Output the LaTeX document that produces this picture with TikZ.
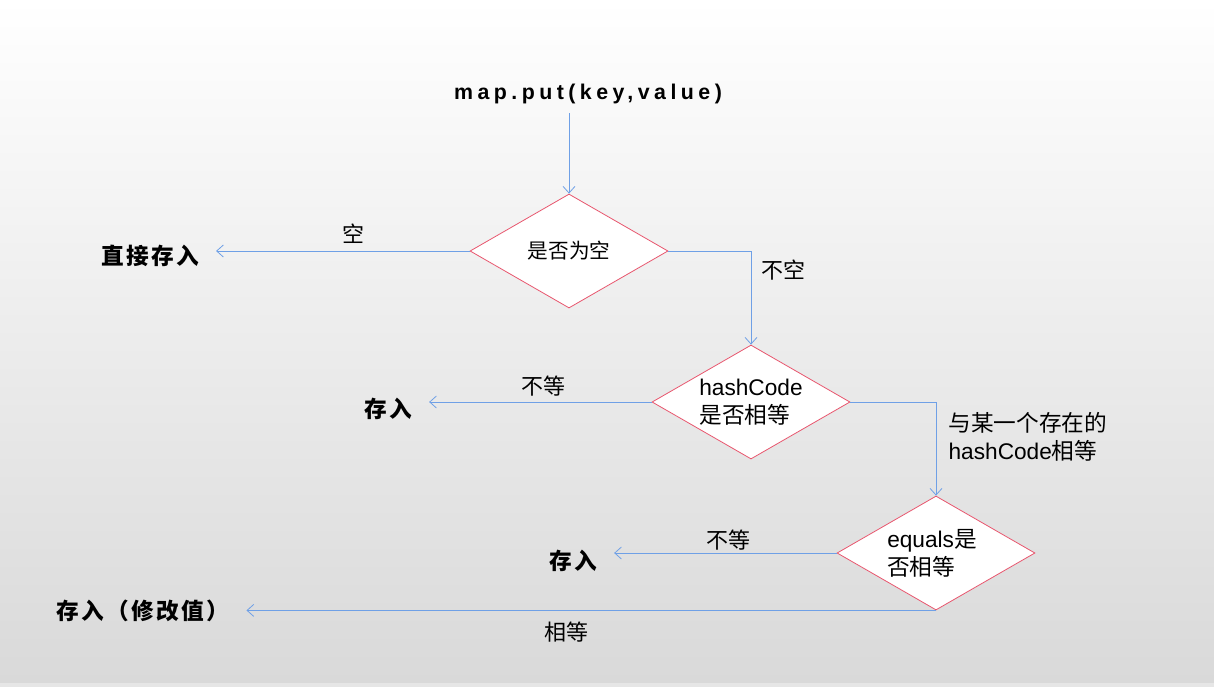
\documentclass[tikz,border=0pt]{standalone}
\usepackage{fontspec}
\usepackage{xcolor}
\setmainfont{Liberation Sans}
\newfontfamily\cjk{Noto Sans CJK SC}
\newfontfamily\cjkwide{Noto Sans CJK SC}[LetterSpace=10]
\newfontfamily\titlefont{Liberation Sans}[LetterSpace=21]
\usetikzlibrary{shapes.geometric,arrows.meta}

\definecolor{flowblue}{RGB}{111,160,230}
\definecolor{edgered}{RGB}{232,86,110}
\definecolor{bgbottom}{RGB}{217,217,217}
\definecolor{bgstrip}{RGB}{230,230,230}

\tikzset{
  decision/.style={diamond, draw=edgered, fill=white, line width=0.6pt, aspect=1.74,
    minimum width=148.5pt, minimum height=85.5pt, inner sep=0pt, align=left},
  flow/.style={draw=flowblue, line width=0.6pt, -{Straight Barb[length=5pt,width=9pt]}},
  result/.style={font=\cjkwide\bfseries\fontsize{17pt}{20pt}\selectfont, inner sep=1pt, outer sep=12pt},
  tag/.style={font=\cjk\fontsize{16.5pt}{21pt}\selectfont, inner sep=1pt, align=left},
}

\begin{document}
\begin{tikzpicture}[x=0.75pt,y=0.75pt,yscale=-1,xscale=1]
    %background
    \useasboundingbox (0,0) rectangle (1214,687);
    \shade [top color=white, bottom color=bgbottom] (0,0) rectangle (1214,683);
    \fill [bgstrip] (0,683) rectangle (1214,687);

    % Text Node
    \node (call) [inner sep=1pt, outer sep=6pt, font=\titlefont\bfseries\fontsize{16pt}{19pt}\selectfont] at (588,94) {map.put(key,value)};

    %Shape: Diamond
    \node (isnull) [decision, font=\cjk\fontsize{15.5pt}{18pt}\selectfont] at (569,251) {是否为空};
    %Shape: Diamond
    \node (hasheq) [decision, font=\fontsize{17pt}{21pt}\selectfont] at (751,402) {hashCode\\{\cjk 是否相等}\hspace*{8pt}};
    %Shape: Diamond
    \node (equalseq) [decision, font=\fontsize{17pt}{21pt}\selectfont] at (936,553) {equals{\cjk 是}\hspace*{6pt}\\{\cjk 否相等}};

    % Text Node
    \node (putdirect) [result] at (150,256) {直接存入};
    \node (putone) [result] at (388,409) {存入};
    \node (puttwo) [result] at (573,561) {存入};
    \node (putupdate) [result] at (143,611) {存入（修改值）};

    %Connectors
    \draw [flow] (isnull.north |- call.south) -- (isnull.north);
    \draw [flow] (isnull.west) -- (isnull.west -| putdirect.east);
    \draw [flow] (isnull.east) -| (hasheq.north);
    \draw [flow] (hasheq.west) -- (hasheq.west -| putone.east);
    \draw [flow] (hasheq.east) -| (equalseq.north);
    \draw [flow] (equalseq.west) -- (equalseq.west -| puttwo.east);
    \draw [flow] (equalseq.south) -- (equalseq.south -| putupdate.east);

    % Text Node
    \node (lblnull) [tag] at (353,234) {空};
    \node (lblnotnull) [tag] at (783,270) {不空};
    \node (lblhashne) [tag] at (543,386) {不等};
    \node (lblhasheq) [tag, anchor=west, font=\fontsize{17pt}{21pt}\selectfont] at (947,437) {{\cjk 与某一个存在的}\\hashCode{\cjk 相等}};
    \node (lblequalsne) [tag] at (728,540) {不等};
    \node (lblequalseq) [tag] at (566,632) {相等};

\end{tikzpicture}
\end{document}
